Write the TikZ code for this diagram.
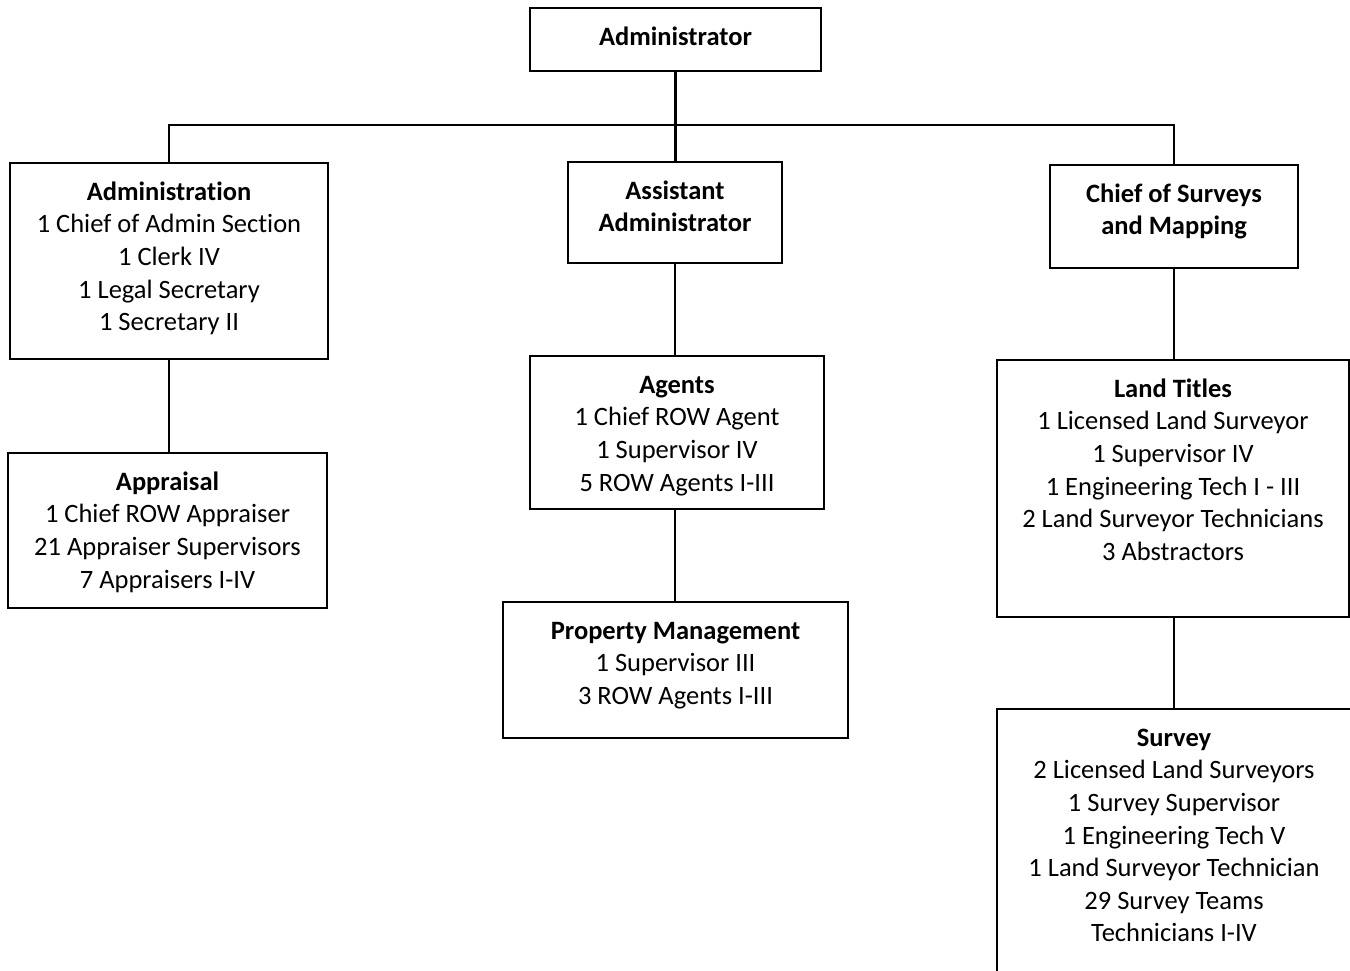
\documentclass[tikz,border=0pt]{standalone}
\usepackage{fontspec}
\setmainfont{Carlito}[Ligatures={NoCommon}]
\begin{document}
\begin{tikzpicture}[x=1pt,y=-1pt,
  box/.style={draw=black,line width=2.8pt,rectangle,anchor=north west,inner sep=0pt,outer sep=0pt},
  txt/.style={anchor=north,inner sep=0pt,align=center,yshift=-15pt,
    font=\fontsize{26.5}{32.6}\selectfont},
  conn/.style={draw=black,line width=2.8pt}]
\useasboundingbox (0,0) rectangle (1350,970);
\clip (0,0) rectangle (1350,970);
\newcommand{\hd}[1]{\rule{0pt}{22pt}\textbf{#1}}
% boxes
\node[box,minimum width=291pt,minimum height=63pt] (adm) at (530,8) {};
\node[box,minimum width=318pt,minimum height=196pt] (admn) at (10,163) {};
\node[box,minimum width=214pt,minimum height=101pt] (asst) at (568,162) {};
\node[box,minimum width=248pt,minimum height=103pt] (chief) at (1050,165) {};
\node[box,minimum width=319pt,minimum height=155pt] (appr) at (8,453) {};
\node[box,minimum width=294pt,minimum height=153pt] (agents) at (530,356) {};
\node[box,minimum width=345pt,minimum height=136pt] (prop) at (503,602) {};
\node[box,minimum width=352pt,minimum height=257pt] (land) at (997,360) {};
\node[box,minimum width=400pt,minimum height=300pt] (surv) at (997,709) {};
% texts
\node[txt] (admT) at (adm.north) {\hd{Administrator}};
\node[txt] (admnT) at (admn.north) {\hd{Administration}\\1 Chief of Admin Section\\1 Clerk IV\\1 Legal Secretary\\1 Secretary II};
\node[txt] (asstT) at (asst.north) {\hd{Assistant}\\\textbf{Administrator}};
\node[txt] (chiefT) at (chief.north) {\hd{Chief of Surveys}\\\textbf{and Mapping}};
\node[txt] (apprT) at (appr.north) {\hd{Appraisal}\\1 Chief ROW Appraiser\\21 Appraiser Supervisors\\7 Appraisers I-IV};
\node[txt] (agentsT) at (agents.north) {\hd{Agents}\\1 Chief ROW Agent\\1 Supervisor IV\\5 ROW Agents I-III};
\node[txt] (propT) at (prop.north) {\hd{Property Management}\\1 Supervisor III\\3 ROW Agents I-III};
\node[txt] (landT) at (land.north) {\hd{Land Titles}\\1 Licensed Land Surveyor\\1 Supervisor IV\\1 Engineering Tech I - III\\2 Land Surveyor Technicians\\3 Abstractors};
\node[txt] (survT) at ([xshift=-23pt]surv.north) {\hd{Survey}\\2 Licensed Land Surveyors\\1 Survey Supervisor\\1 Engineering Tech V\\1 Land Surveyor Technician\\29 Survey Teams\\Technicians I-IV};
% connectors
\coordinate (bus) at (adm.south |- 0,125);
\draw[conn] (adm.south) -- (bus);
\draw[conn] (bus) -| (admn.north);
\draw[conn] (bus) -| (chief.north);
\draw[conn] (bus) -- (bus |- asst.north);
\draw[conn] (asst.south) -- (asst.south |- agents.north);
\draw[conn] (asst.south |- agents.south) -- (asst.south |- prop.north);
\draw[conn] (admn.south) -- (admn.south |- appr.north);
\draw[conn] (chief.south) -- (chief.south |- land.north);
\draw[conn] (chief.south |- land.south) -- (chief.south |- surv.north);
\end{tikzpicture}
\end{document}
